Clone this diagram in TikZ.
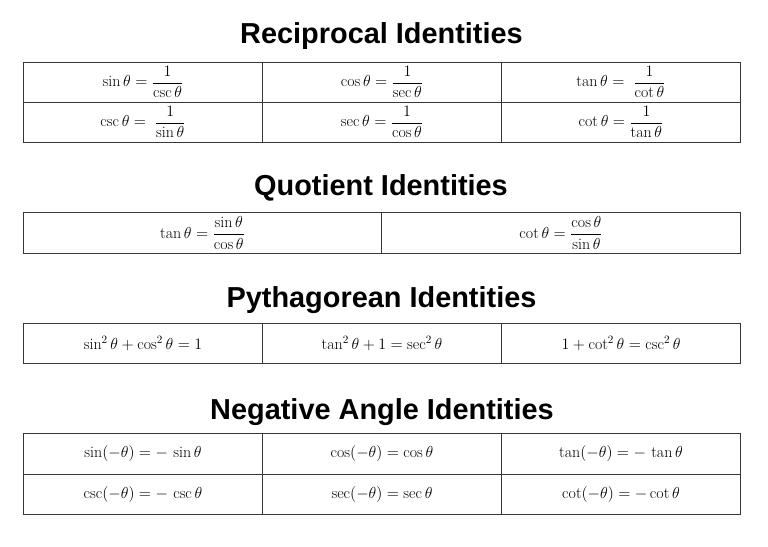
\RequirePackage{fix-cm}
\documentclass[tikz,border=0pt]{standalone}
\usepackage{amsmath}
\usepackage{fontspec}
\newfontfamily\titlefont{Liberation Sans}
\begin{document}
\begin{tikzpicture}[x=1bp,y=-1bp,
  title/.style={font=\titlefont\bfseries\fontsize{29}{34}\selectfont, anchor=base, inner sep=0pt},
  cell/.style={font=\fontsize{16}{19}\selectfont, inner sep=0pt},
  rule/.style={draw=black!78, line width=0.9bp}]
\useasboundingbox (0,0) rectangle (768,547);

% ---------- Reciprocal ----------
\node[title] (t1) at (381.5,43.5) {Reciprocal Identities};
\draw[rule] (23.5,62) rectangle (740,142);
\draw[rule] (23.5,102) -- (740,102);
\draw[rule] (262.5,62) -- (262.5,142);
\draw[rule] (501.5,62) -- (501.5,142);
\node[cell] (r11) at (143,82) {$\sin\theta=\dfrac{1}{\csc\theta}$};
\node[cell] (r12) at (382,82) {$\cos\theta=\dfrac{1}{\sec\theta}$};
\node[cell] (r13) at (621,82) {$\tan\theta=\;\dfrac{1}{\cot\theta}$};
\node[cell] (r21) at (143,122) {$\csc\theta=\;\dfrac{1}{\sin\theta}$};
\node[cell] (r22) at (382,122) {$\sec\theta=\dfrac{1}{\cos\theta}$};
\node[cell] (r23) at (621,122) {$\cot\theta=\dfrac{1}{\tan\theta}$};

% ---------- Quotient ----------
\node[title] (t2) at (381,196) {Quotient Identities};
\draw[rule] (23.5,212.5) rectangle (740,253);
\draw[rule] (381.5,212.5) -- (381.5,253);
\node[cell] (q1) at (202.5,232.75) {$\tan\theta=\dfrac{\sin\theta}{\cos\theta}$};
\node[cell] (q2) at (561,232.75) {$\cot\theta=\dfrac{\cos\theta}{\sin\theta}$};

% ---------- Pythagorean ----------
\node[title] (t3) at (381.5,307.5) {Pythagorean Identities};
\draw[rule] (23.5,323) rectangle (740,363.5);
\draw[rule] (262.5,323) -- (262.5,363.5);
\draw[rule] (501.5,323) -- (501.5,363.5);
\node[cell] (p1) at (143,343.25) {$\sin^2\theta+\cos^2\theta=1$};
\node[cell] (p2) at (382,343.25) {$\tan^2\theta+1=\sec^2\theta$};
\node[cell] (p3) at (621,343.25) {$1+\cot^2\theta=\csc^2\theta$};

% ---------- Negative Angle ----------
\node[title] (t4) at (382,419.3) {Negative Angle Identities};
\draw[rule] (23.5,433.5) rectangle (740,514.5);
\draw[rule] (23.5,474) -- (740,474);
\draw[rule] (262.5,433.5) -- (262.5,514.5);
\draw[rule] (501.5,433.5) -- (501.5,514.5);
\node[cell] (n11) at (143,453.75) {$\sin(-\theta)=-\,\sin\theta$};
\node[cell] (n12) at (382,453.75) {$\cos(-\theta)=\cos\theta$};
\node[cell] (n13) at (621,453.75) {$\tan(-\theta)=-\,\tan\theta$};
\node[cell] (n21) at (143,494.25) {$\csc(-\theta)=-\,\csc\theta$};
\node[cell] (n22) at (382,494.25) {$\sec(-\theta)=\sec\theta$};
\node[cell] (n23) at (621,494.25) {$\cot(-\theta)=-\cot\theta$};
\end{tikzpicture}
\end{document}
